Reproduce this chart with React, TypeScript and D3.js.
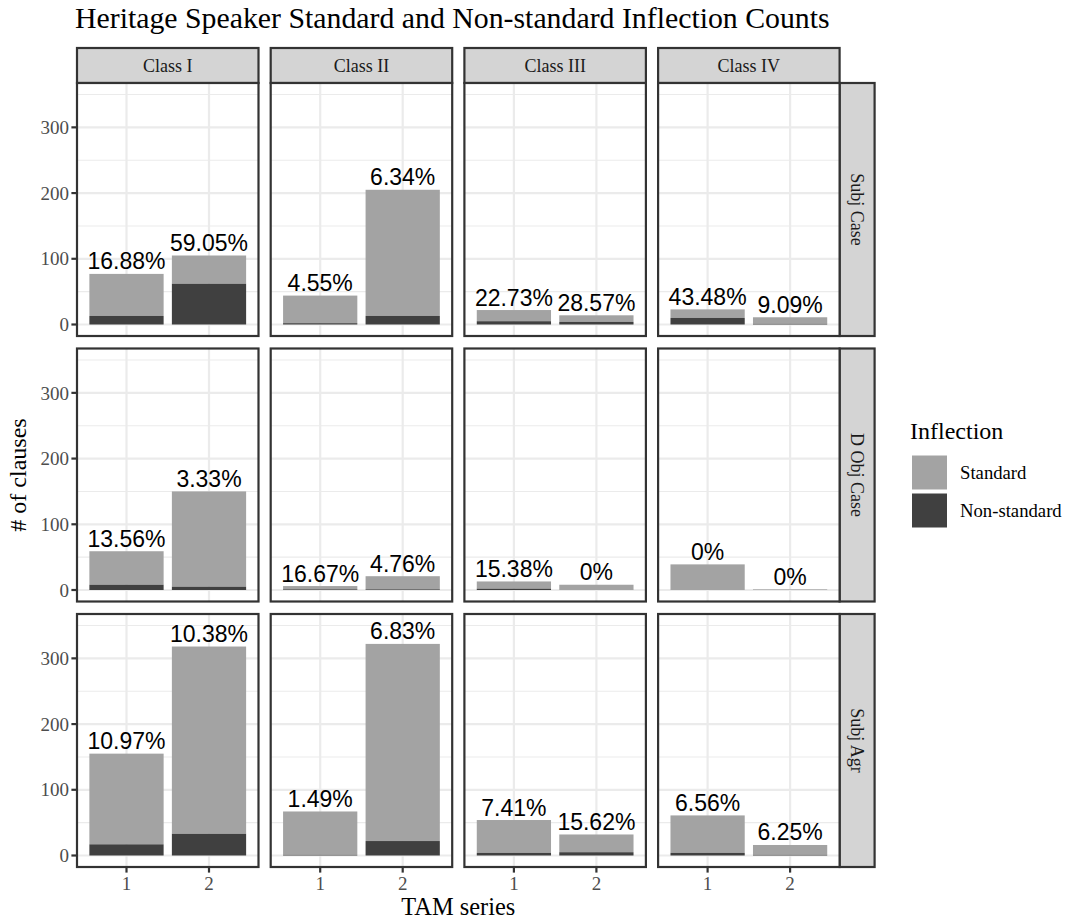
import React from "react";
import * as d3 from "d3";

// facets
const classes = ["Class I", "Class II", "Class III", "Class IV"];
const features = ["Subj Case", "D Obj Case", "Subj Agr"];
const tamSeries = ["1", "2"];
const inflections = ["Standard", "Non-standard"];

// total clauses per [feature][class][tam]
const totals = [
    [[77, 105], [44, 205], [22, 14], [23, 11]],
    [[59, 150], [6, 21], [13, 8], [39, 1]],
    [[155, 318], [67, 322], [54, 32], [61, 16]],
];
// non-standard clauses per [feature][class][tam]
const nonStandard = [
    [[13, 62], [2, 13], [5, 4], [10, 1]],
    [[8, 5], [1, 1], [2, 0], [0, 0]],
    [[17, 33], [1, 22], [4, 5], [4, 1]],
];
// percent labels as printed above the bars
const pctLabels = [
    [["16.88%", "59.05%"], ["4.55%", "6.34%"], ["22.73%", "28.57%"], ["43.48%", "9.09%"]],
    [["13.56%", "3.33%"], ["16.67%", "4.76%"], ["15.38%", "0%"], ["0%", "0%"]],
    [["10.97%", "10.38%"], ["1.49%", "6.83%"], ["7.41%", "15.62%"], ["6.56%", "6.25%"]],
];
const yTicks = [0, 100, 200, 300];
const yMinor = [50, 150, 250, 350];

const colors = { Standard: "#a3a3a3", "Non-standard": "#404040" };
const serif = "'Liberation Serif', 'Times New Roman', serif";
const sans = "'Liberation Sans', Arial, sans-serif";

const W = 1065;
const H = 920;
const left = 77;
const panelW = 181.5;
const gapX = 12.2;
const stripTop = 48;
const stripH = 35;
const top = stripTop + stripH;
const panelH = 253;
const gapY = 12.5;
const lw = 2.2;

const App = () => {
    const x = d3.scalePoint<string>().domain(tamSeries).range([0, panelW]).padding(0.6);
    const step = x.step();
    const barW = step * 0.9;
    const y = d3.scaleLinear().domain([-17.5, 367.5]).range([panelH, 0]);

    const colX = (i: number) => left + i * (panelW + gapX);
    const rowY = (j: number) => top + j * (panelH + gapY);
    const right = colX(classes.length - 1) + panelW;
    const bottom = rowY(features.length - 1) + panelH;

    return (
        <svg width={W} height={H} style={{ position: "absolute", left: 0, top: 0, background: "#fff" }}>
            <text x={left - 2} y={28} fontFamily={serif} fontSize={29.8} fill="#000">
                Heritage Speaker Standard and Non-standard Inflection Counts
            </text>

            {/* column strips */}
            {classes.map((c, i) => (
                <g key={c} transform={`translate(${colX(i)},${stripTop})`}>
                    <rect width={panelW} height={stripH} fill="#d4d4d4" stroke="#333" strokeWidth={lw} />
                    <text x={panelW / 2} y={stripH / 2} dy="0.35em" textAnchor="middle"
                        fontFamily={serif} fontSize={18} fill="#1a1a1a">{c}</text>
                </g>
            ))}

            {/* row strips */}
            {features.map((f, j) => (
                <g key={f} transform={`translate(${right},${rowY(j)})`}>
                    <rect width={stripH} height={panelH} fill="#d4d4d4" stroke="#333" strokeWidth={lw} />
                    <text transform={`translate(${stripH / 2},${panelH / 2}) rotate(90)`} dy="0.35em"
                        textAnchor="middle" fontFamily={serif} fontSize={18} fill="#1a1a1a">{f}</text>
                </g>
            ))}

            {features.map((f, j) =>
                classes.map((c, i) => (
                    <g key={f + c} transform={`translate(${colX(i)},${rowY(j)})`}>
                        <rect width={panelW} height={panelH} fill="#fff" />
                        {yMinor.map(t => (
                            <line key={"m" + t} x1={0} x2={panelW} y1={y(t)} y2={y(t)} stroke="#ebebeb" strokeWidth={1.1} />
                        ))}
                        {yTicks.map(t => (
                            <line key={"M" + t} x1={0} x2={panelW} y1={y(t)} y2={y(t)} stroke="#ebebeb" strokeWidth={lw} />
                        ))}
                        {tamSeries.map(s => (
                            <line key={"v" + s} x1={x(s)} x2={x(s)} y1={0} y2={panelH} stroke="#ebebeb" strokeWidth={lw} />
                        ))}
                        {tamSeries.map((s, k) => {
                            const tot = totals[j][i][k];
                            const ns = nonStandard[j][i][k];
                            const bx = (x(s) as number) - barW / 2;
                            return (
                                <g key={s}>
                                    <rect x={bx} width={barW} y={y(tot)} height={y(ns) - y(tot)} fill={colors.Standard} />
                                    <rect x={bx} width={barW} y={y(ns)} height={y(0) - y(ns)} fill={colors["Non-standard"]} />
                                    <text x={x(s)} y={y(tot) - 4.5} textAnchor="middle" fontFamily={sans}
                                        fontSize={23} fill="#000">{pctLabels[j][i][k]}</text>
                                </g>
                            );
                        })}
                        <rect width={panelW} height={panelH} fill="none" stroke="#333" strokeWidth={lw} />

                        {/* y axis on first column */}
                        {i === 0 && yTicks.map(t => (
                            <g key={"yt" + t} transform={`translate(0,${y(t)})`}>
                                <line x1={-5.6} x2={0} stroke="#333" strokeWidth={lw} />
                                <text x={-8} dy="0.35em" textAnchor="end" fontFamily={serif}
                                    fontSize={19} fill="#4d4d4d">{t}</text>
                            </g>
                        ))}
                        {/* x axis on last row */}
                        {j === features.length - 1 && tamSeries.map(s => (
                            <g key={"xt" + s} transform={`translate(${x(s)},${panelH})`}>
                                <line y1={0} y2={5.6} stroke="#333" strokeWidth={lw} />
                                <text y={23} textAnchor="middle" fontFamily={serif}
                                    fontSize={19} fill="#4d4d4d">{s}</text>
                            </g>
                        ))}
                    </g>
                ))
            )}

            <text x={(left + right) / 2} y={915} textAnchor="middle" fontFamily={serif} fontSize={24.4} fill="#000">
                TAM series
            </text>
            <text transform={`translate(26,${(top + bottom) / 2}) rotate(-90)`} textAnchor="middle"
                fontFamily={serif} fontSize={24} fill="#000"># of clauses</text>

            {/* legend */}
            <g transform="translate(910,0)">
                <text x={0} y={439} fontFamily={serif} fontSize={24} fill="#000">Inflection</text>
                {inflections.map((inf, k) => (
                    <g key={inf} transform={`translate(2,${455.5 + k * 38})`}>
                        <rect width={35} height={34} fill={colors[inf as keyof typeof colors]} />
                        <text x={48} y={17} dy="0.35em" fontFamily={serif} fontSize={18.7} fill="#000">{inf}</text>
                    </g>
                ))}
            </g>
        </svg>
    );
};

export default App;
